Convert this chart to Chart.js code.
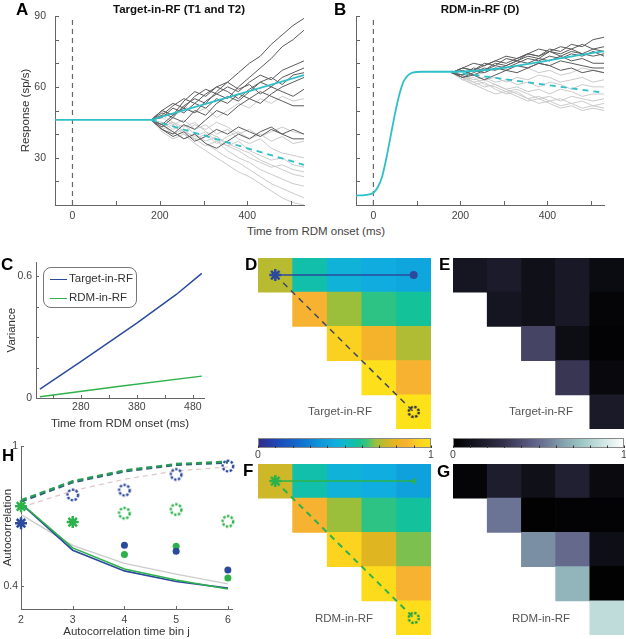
<!DOCTYPE html>
<html>
<head>
<meta charset="utf-8">
<script src="https://cdn.jsdelivr.net/npm/chart.js@4.4.1/dist/chart.umd.min.js"></script>
<style>
  body { margin: 0; background: #fff; }
  #fig { position: relative; width: 626px; height: 639px; overflow: hidden; font-family: 'Liberation Sans', Arial, sans-serif; }
  #fig canvas, .t { position: absolute; }
  .t { white-space: nowrap; line-height: 1; color: #333; }
  .c { transform: translate(-50%, -50%); }
  .L { font-weight: bold; font-size: 17px; color: #000; }
  .lab { font-size: 11.5px; color: #555; }
</style>
</head>
<body>
<div id="fig">
  <canvas id="cA" width="310" height="225" style="left:0;top:0"></canvas>
  <canvas id="cB" width="296" height="225" style="left:330px;top:0"></canvas>
  <canvas id="cC" width="220" height="183" style="left:0;top:252px"></canvas>
  <canvas id="cH" width="240" height="202" style="left:0;top:437px"></canvas>
  <canvas id="cD" width="173" height="171" style="left:258px;top:258px"></canvas>
  <canvas id="cE" width="171" height="171" style="left:453px;top:258px"></canvas>
  <canvas id="cF" width="173" height="171" style="left:258px;top:464px"></canvas>
  <canvas id="cG" width="171" height="171" style="left:453px;top:464px"></canvas>
  <canvas id="cbD" width="190" height="30" style="left:250px;top:434px"></canvas>
  <canvas id="cbE" width="183" height="30" style="left:445px;top:434px"></canvas>

  <div class="t L" style="left:16px;top:1px">A</div>
  <div class="t L" style="left:334px;top:1px">B</div>
  <div class="t L" style="left:1px;top:256px">C</div>
  <div class="t L" style="left:245px;top:256px">D</div>
  <div class="t L" style="left:439px;top:256px">E</div>
  <div class="t L" style="left:243px;top:462px">F</div>
  <div class="t L" style="left:437px;top:463px">G</div>
  <div class="t L" style="left:2px;top:447px">H</div>

  <div class="t c" style="left:179px;top:10px;font-weight:bold;font-size:11.5px;color:#111">Target-in-RF (T1 and T2)</div>
  <div class="t c" style="left:480px;top:10px;font-weight:bold;font-size:11.5px;color:#111">RDM-in-RF (D)</div>
  <div class="t c" style="left:316px;top:232px;font-size:11.5px;color:#444">Time from RDM onset (ms)</div>

  <div class="t c lab" style="left:340px;top:412px">Target-in-RF</div>
  <div class="t c lab" style="left:541px;top:412px">Target-in-RF</div>
  <div class="t c lab" style="left:344px;top:619px">RDM-in-RF</div>
  <div class="t c lab" style="left:541px;top:619px">RDM-in-RF</div>

  <div class="t" style="left:43px;top:267px;width:92px;height:39px;border:1px solid #777;border-radius:8px"></div>
  <div class="t" style="left:50px;top:279px;width:17px;border-top:1.5px solid #2b4a9c"></div>
  <div class="t" style="left:69px;top:273px;font-size:11.5px">Target-in-RF</div>
  <div class="t" style="left:50px;top:298px;width:17px;border-top:1.5px solid #2db24b"></div>
  <div class="t" style="left:69px;top:292px;font-size:11.5px">RDM-in-RF</div>
</div>

<script>
// ---- A / B : simulated firing rates ----
const tWalk = [180, 205, 230, 255, 280, 305, 330, 355, 380, 405, 430, 455, 480, 505, 530];

const aDark = [
  [46, 49, 47, 52, 55, 53, 58, 62, 66, 70, 73, 78, 82, 86, 89],
  [46, 44, 48, 51, 49, 54, 57, 55, 60, 64, 68, 72, 77, 80, 84],
  [46, 50, 53, 51, 56, 59, 57, 60, 58, 62, 65, 63, 67, 69, 71],
  [46, 43, 47, 45, 50, 48, 53, 56, 54, 58, 62, 60, 64, 66, 68],
  [46, 48, 52, 55, 53, 57, 60, 58, 55, 59, 62, 64, 61, 65, 66],
  [46, 42, 40, 44, 42, 46, 50, 48, 52, 55, 53, 57, 60, 62, 64],
  [46, 50, 48, 54, 58, 56, 60, 62, 59, 61, 57, 60, 58, 56, 59],
  [46, 47, 51, 49, 53, 51, 55, 53, 57, 55, 58, 56, 54, 52, 52],
  [46, 42, 39, 41, 37, 39, 42, 40, 43, 41, 39, 42, 40, 38, 38],
  [46, 44, 41, 38, 40, 36, 34, 37, 40, 38, 41, 43, 40, 42, 40]
];
const aLight = [
  [46, 50, 48, 52, 49, 51, 47, 50, 53, 51, 55, 53, 56, 54, 55],
  [46, 43, 45, 41, 44, 42, 45, 43, 40, 42, 39, 41, 43, 41, 40],
  [46, 44, 40, 42, 38, 40, 36, 39, 41, 38, 40, 37, 39, 36, 37],
  [46, 47, 44, 46, 42, 44, 40, 42, 38, 36, 38, 34, 32, 31, 30],
  [46, 43, 45, 41, 39, 41, 37, 35, 37, 33, 31, 29, 30, 27, 26],
  [46, 48, 45, 43, 45, 41, 39, 36, 34, 32, 29, 27, 25, 23, 22],
  [46, 42, 44, 40, 38, 35, 37, 33, 30, 28, 25, 23, 21, 19, 18],
  [46, 44, 41, 38, 40, 36, 33, 30, 28, 25, 22, 19, 17, 15, 13],
  [46, 41, 38, 40, 36, 33, 30, 27, 24, 22, 19, 16, 13, 11, 10],
  [46, 45, 42, 44, 40, 37, 39, 35, 33, 30, 28, 26, 27, 25, 24]
];
const aMeanT = [-40, 180, 530];
const aMeanUp = [46, 46, 65];
const aDashT = [180, 530];
const aMeanDown = [46, 27];

const bDark = [
  [66, 68, 67, 70, 69, 72, 71, 74, 73, 76, 75, 78, 77, 80, 81],
  [66, 65, 68, 67, 70, 69, 71, 73, 72, 75, 74, 76, 78, 76, 77],
  [66, 68, 70, 69, 71, 73, 72, 74, 76, 75, 77, 76, 74, 76, 75],
  [66, 64, 66, 68, 67, 69, 71, 70, 72, 71, 73, 75, 74, 73, 74],
  [66, 67, 65, 67, 69, 68, 70, 72, 71, 73, 72, 74, 73, 75, 73],
  [66, 68, 67, 69, 71, 70, 72, 74, 73, 75, 73, 71, 72, 70, 70],
  [66, 65, 67, 66, 68, 67, 69, 68, 70, 69, 71, 70, 69, 68, 68],
  [66, 64, 65, 63, 65, 67, 66, 68, 70, 69, 67, 68, 66, 67, 66]
];
const bLight = [
  [66, 67, 65, 66, 68, 67, 69, 68, 66, 67, 65, 66, 68, 67, 66],
  [66, 64, 65, 63, 64, 62, 64, 63, 65, 64, 62, 63, 64, 62, 63],
  [66, 65, 63, 64, 62, 63, 61, 62, 60, 62, 61, 59, 61, 60, 60],
  [66, 64, 62, 63, 61, 59, 60, 58, 59, 57, 59, 58, 56, 57, 57],
  [66, 63, 64, 61, 60, 58, 59, 57, 55, 56, 54, 56, 55, 54, 55],
  [66, 65, 62, 60, 61, 59, 57, 55, 56, 54, 55, 53, 54, 52, 53],
  [66, 63, 61, 62, 59, 57, 58, 55, 53, 54, 52, 53, 51, 52, 51],
  [66, 64, 61, 59, 57, 58, 56, 54, 55, 53, 51, 52, 50, 51, 50]
];
const bMeanT = [-40, -20, 0, 10, 20, 30, 40, 50, 60, 70, 80, 90, 110, 180, 530];
const bMeanUp = [14, 14.2, 15.2, 17.5, 22, 30, 39.5, 49, 57, 62.5, 65, 66, 66.4, 66.4, 75];
const bDashT = [180, 530];
const bMeanDown = [66.4, 57.5];

const rateRange = [10, 90];
const rateTicks = [10, 20, 30, 40, 50, 60, 70, 80, 90];
const rateLabeled = [30, 60, 90];
const timeRange = [-40, 530];
const timeTicks = [0, 100, 200, 300, 400, 500];
const timeLabeled = [0, 200, 400];
const onsetX = [0, 0];

// ---- C : variance ----
const cTimeT = [207, 280, 380, 450, 496];
const cVarT = [0.044, 0.18, 0.37, 0.51, 0.615];
const cTimeR = [207, 350, 496];
const cVarR = [0.006, 0.058, 0.108];
const cXTicks = [230, 280, 330, 380, 430, 480];
const cXLabeled = [280, 380, 480];
const cYTicks = [0, 0.15, 0.3, 0.45, 0.6];
const cYLabeled = [0, 0.6];

// ---- H : autocorrelation ----
const hBins = [2, 3, 4, 5, 6];
const hDashT = [0.762, 0.845, 0.892, 0.92, 0.93];
const hDashR = [0.768, 0.85, 0.896, 0.924, 0.934];
const hDashShuffle = [0.737, 0.809, 0.858, 0.894, 0.911];
const hSolidGray = [0.706, 0.574, 0.496, 0.45, 0.408];
const hSolidT = [0.753, 0.553, 0.464, 0.418, 0.39];
const hSolidR = [0.755, 0.563, 0.472, 0.425, 0.386];
const hStarT = [[2, 0.669]];
const hStarR = [[2, 0.742], [3, 0.674]];
const hRingT = [[3, 0.791], [4, 0.811], [5, 0.879], [6, 0.915]];
const hRingR = [[4, 0.712], [5, 0.728], [6, 0.677]];
const hDotT = [[4, 0.574], [5, 0.549], [6, 0.468]];
const hDotR = [[4, 0.535], [5, 0.570], [6, 0.433]];
const hYTicks = [0.4, 1];

// ---- D-G : correlation matrices ----
const cellIdx = [0, 1, 2, 3, 4];
const dVals = [
  [0.72, 0.55, 0.47, 0.44, 0.42],
  [null, 0.86, 0.685, 0.61, 0.575],
  [null, null, 0.93, 0.84, 0.71],
  [null, null, null, 0.99, 0.86],
  [null, null, null, null, 1.0]
];
const fVals = [
  [0.75, 0.55, 0.47, 0.45, 0.40],
  [null, 0.86, 0.685, 0.61, 0.57],
  [null, null, 0.94, 0.78, 0.665],
  [null, null, null, 0.97, 0.86],
  [null, null, null, null, 0.98]
];
const eVals = [
  [0.14, 0.17, 0.1, 0.15, 0.07],
  [null, 0.13, 0.1, 0.15, 0.03],
  [null, null, 0.37, 0.08, 0.02],
  [null, null, null, 0.32, 0.05],
  [null, null, null, null, 0.16]
];
const gVals = [
  [0.03, 0.18, 0.1, 0.2, 0.06],
  [null, 0.53, 0.01, 0.02, 0.02],
  [null, null, 0.6, 0.5, 0.09],
  [null, null, null, 0.7, 0.01],
  [null, null, null, null, 0.84]
];
const pathStart = [0, 0], pathRowEnd = [4, 0], pathDiagEnd = [4, 4];
const cbTicks = [0, 0.1, 0.2, 0.3, 0.4, 0.5, 0.6, 0.7, 0.8, 0.9, 1];
const cbLabeled = [0, 1];

const parulaStops = [
  [0, '#332a8a'], [0.12, '#1d4bb8'], [0.25, '#1071d0'], [0.35, '#0e93d8'],
  [0.45, '#10aee0'], [0.52, '#10bcc0'], [0.58, '#14c296'], [0.63, '#3cc47a'],
  [0.68, '#98c03c'], [0.74, '#c8b82a'], [0.8, '#eab41c'], [0.86, '#f8b232'],
  [0.92, '#fbcf22'], [1, '#fde21a']
];
const boneStops = [
  [0, '#000000'], [0.15, '#181826'], [0.3, '#33314c'], [0.45, '#5a5a82'],
  [0.55, '#6f7a98'], [0.65, '#86a4b0'], [0.75, '#9cc6c4'], [0.88, '#cfe6e4'], [1, '#ffffff']
];

const blue = '#2b4a9c', green = '#2db24b', cyan = '#2fbfc8';

Chart.defaults.font.family = "'Liberation Sans', Arial, Helvetica, sans-serif";
Chart.defaults.font.size = 10.5;
Chart.defaults.color = '#444';
Chart.defaults.animation = false;
Chart.defaults.responsive = false;
Chart.defaults.plugins.legend.display = false;
Chart.defaults.plugins.tooltip.enabled = false;

// inward tick marks, matlab style
const inTicks = {
  id: 'inTicks',
  defaults: { len: 0, color: '#555' },
  afterDraw(chart, args, opts) {
    if (!opts.len) return;
    const ctx = chart.ctx;
    ctx.save();
    ctx.strokeStyle = opts.color;
    ctx.lineWidth = 1;
    Object.values(chart.scales).forEach(s => {
      if (!s.options.display) return;
      s.ticks.forEach(t => {
        const p = Math.round(s.getPixelForValue(t.value)) + 0.5;
        ctx.beginPath();
        if (s.isHorizontal()) { ctx.moveTo(p, s.top); ctx.lineTo(p, s.top - opts.len); }
        else { ctx.moveTo(s.right, p); ctx.lineTo(s.right + opts.len, p); }
        ctx.stroke();
      });
    });
    ctx.restore();
  }
};
Chart.register(inTicks);

const cbarFill = {
  id: 'cbarFill',
  beforeDatasetsDraw(chart, args, opts) {
    const { ctx, chartArea: a } = chart;
    const g = ctx.createLinearGradient(a.left, 0, a.right, 0);
    opts.stops.forEach(([p, c]) => g.addColorStop(p, c));
    ctx.save();
    ctx.fillStyle = g;
    ctx.fillRect(a.left, a.top, a.width, a.height);
    ctx.strokeStyle = '#888';
    ctx.strokeRect(a.left + 0.5, a.top + 0.5, a.width - 1, a.height - 1);
    ctx.restore();
  }
};

const hex = h => [1, 3, 5].map(i => parseInt(h.slice(i, i + 2), 16));
function cmap(stops, v) {
  for (let i = 1; i < stops.length; i++) {
    if (v <= stops[i][0]) {
      const [p0, c0] = stops[i - 1], [p1, c1] = stops[i];
      const f = (v - p0) / (p1 - p0), a = hex(c0), b = hex(c1);
      return 'rgb(' + a.map((x, k) => Math.round(x + (b[k] - x) * f)).join(',') + ')';
    }
  }
  return stops[stops.length - 1][1];
}

// dotted open circle used as a point style
function ring(color, r) {
  const c = document.createElement('canvas');
  c.width = c.height = 2 * Math.ceil(r) + 6;
  const x = c.getContext('2d');
  x.strokeStyle = color; x.lineWidth = 2.4; x.setLineDash([2.4, 1.5]);
  x.beginPath(); x.arc(c.width / 2, c.height / 2, r, 0, Math.PI * 2); x.stroke();
  return c;
}

function linAxis(range, ticks, labeled, fit, horiz, pad, title) {
  return {
    type: 'linear', min: range[0], max: range[1], offset: false,
    grid: { display: false, drawTicks: false },
    border: { display: true, color: '#666', width: 1 },
    ticks: {
      autoSkip: false, maxRotation: 0, padding: pad, color: '#444',
      callback: v => labeled.includes(v) ? String(v) : ''
    },
    afterBuildTicks: s => { s.ticks = ticks.map(v => ({ value: v })); },
    afterFit: s => { if (horiz) s.height = fit; else s.width = fit; },
    title: title ? { display: true, text: title.text, color: '#333', font: { size: 11.5 }, padding: title.padding } : { display: false }
  };
}

function ln(xs, ys, color, width, dash) {
  return {
    data: xs.map((x, i) => ({ x, y: ys[i] })),
    borderColor: color, borderWidth: width, borderDash: dash || [],
    pointRadius: 0, fill: false, tension: 0
  };
}
const pts = arr => arr.map(([x, y]) => ({ x, y }));

// ---- A ----
new Chart(document.getElementById('cA'), {
  type: 'line',
  data: {
    datasets: [
      ln(aMeanT, aMeanUp, cyan, 1.8),
      ln(aDashT, aMeanDown, cyan, 1.8, [6, 5]),
      ln(onsetX, rateRange, '#666', 1.2, [5, 4]),
      ...aDark.map(y => ln(tWalk, y, '#5a5a5a', 1)),
      ...aLight.map(y => ln(tWalk, y, '#cacaca', 1))
    ]
  },
  options: {
    layout: { padding: { left: 0, top: 16, right: 6, bottom: 0 }, autoPadding: false },
    scales: {
      x: linAxis(timeRange, timeTicks, timeLabeled, 20, true, 5),
      y: linAxis(rateRange, rateTicks, rateLabeled, 55, false, 9, { text: 'Response (sp/s)', padding: { top: 18.5, bottom: 0 } })
    },
    plugins: { inTicks: { len: 4, color: '#666' } }
  }
});

// ---- B ----
const bRise = ln(bMeanT, bMeanUp, cyan, 1.8);
bRise.cubicInterpolationMode = 'monotone';
new Chart(document.getElementById('cB'), {
  type: 'line',
  data: {
    datasets: [
      bRise,
      ln(bDashT, bMeanDown, cyan, 1.8, [6, 5]),
      ln(onsetX, rateRange, '#666', 1.2, [5, 4]),
      ...bDark.map(y => ln(tWalk, y, '#5a5a5a', 1)),
      ...bLight.map(y => ln(tWalk, y, '#cacaca', 1))
    ]
  },
  options: {
    layout: { padding: { left: 0, top: 16, right: 22, bottom: 0 }, autoPadding: false },
    scales: {
      x: linAxis(timeRange, timeTicks, timeLabeled, 20, true, 5),
      y: linAxis(rateRange, rateTicks, [], 26, false, 9)
    },
    plugins: { inTicks: { len: 4, color: '#666' } }
  }
});

// ---- C ----
new Chart(document.getElementById('cC'), {
  type: 'line',
  data: {
    datasets: [
      ln(cTimeT, cVarT, blue, 1.5),
      ln(cTimeR, cVarR, green, 1.5)
    ]
  },
  options: {
    layout: { padding: { left: 0, top: 8, right: 16, bottom: 0 }, autoPadding: false },
    scales: {
      x: linAxis([200, 500], cXTicks, cXLabeled, 37, true, 3, { text: 'Time from RDM onset (ms)', padding: { top: 0, bottom: 3.8 } }),
      y: linAxis([0, 0.67], cYTicks, cYLabeled, 36, false, 4, { text: 'Variance', padding: { top: 5.3, bottom: 0 } })
    },
    plugins: { inTicks: { len: 3, color: '#666' } }
  }
});

// ---- H ----
const ringBlue = ring(blue, 5.3), ringGreen = ring(green, 5.3);
function mk(data, style, color, extra) {
  return Object.assign({ data: pts(data), showLine: false, pointStyle: style, borderColor: color, backgroundColor: color, clip: false, order: 0 }, extra);
}
new Chart(document.getElementById('cH'), {
  type: 'line',
  data: {
    datasets: [
      mk(hStarR, 'star', green, { pointRadius: 6, borderWidth: 2.5 }),
      mk(hStarT, 'star', blue, { pointRadius: 6, borderWidth: 2.5 }),
      mk(hRingT, ringBlue, blue, { pointRadius: 6 }),
      mk(hRingR, ringGreen, green, { pointRadius: 6 }),
      mk(hDotT, 'circle', blue, { pointRadius: 3.5, borderWidth: 0 }),
      mk(hDotR, 'circle', green, { pointRadius: 3.5, borderWidth: 0 }),
      Object.assign(ln(hBins, hDashR, '#2a9a58', 2.2, [6, 4]), { order: 1, clip: false }),
      Object.assign(ln(hBins, hDashT, '#2c5a7c', 2.2, [6, 4]), { order: 1, clip: false }),
      Object.assign(ln(hBins, hDashShuffle, '#e0c6c8', 1.2, [5, 4]), { order: 2, clip: false }),
      Object.assign(ln(hBins, hSolidR, green, 1.6), { order: 1, clip: false }),
      Object.assign(ln(hBins, hSolidT, blue, 1.6), { order: 1, clip: false }),
      Object.assign(ln(hBins, hSolidGray, '#cccccc', 1.4), { order: 2, clip: false })
    ]
  },
  options: {
    layout: { padding: { left: 0, top: 8, right: 8, bottom: 0 }, autoPadding: false },
    scales: {
      x: linAxis([2, 6.08], hBins, hBins, 30, true, 4.5, { text: 'Autocorrelation time bin j', padding: { top: 0, bottom: 0 } }),
      y: linAxis([0.3, 1], hYTicks, hYTicks, 21, false, 3, { text: 'Autocorrelation', padding: { top: 1.3, bottom: 0 } })
    },
    plugins: { inTicks: { len: 3, color: '#666' } }
  }
});

// ---- D-G heat maps ----
function heatChart(id, vals, stops, overlay) {
  const cells = [], colors = [];
  vals.forEach((row, r) => row.forEach((v, c) => {
    if (v === null) return;
    cells.push({ x: c, y: [r - 0.5, r + 0.5] });
    colors.push(cmap(stops, v));
  }));
  const datasets = (overlay || []).concat([{
    type: 'bar', data: cells, backgroundColor: colors, borderWidth: 0,
    barPercentage: 1, categoryPercentage: 1, order: 10
  }]);
  new Chart(document.getElementById(id), {
    type: 'bar',
    data: { datasets },
    options: {
      layout: { padding: 0, autoPadding: false },
      scales: {
        x: { type: 'linear', min: -0.5, max: 4.5, display: false, offset: false,
             afterBuildTicks: s => { s.ticks = cellIdx.map(v => ({ value: v })); } },
        y: { type: 'linear', min: -0.5, max: 4.5, reverse: true, display: false }
      }
    }
  });
}
const P = p => ({ x: p[0], y: p[1] });
function pathOverlay(color, diagColor, diagWidth, endStyle, ringImg) {
  return [
    { type: 'scatter', data: [P(pathStart)], pointStyle: 'star', pointRadius: 6, borderWidth: 2.5, borderColor: color, order: 0 },
    { type: 'scatter', data: [P(pathRowEnd)], pointStyle: endStyle, pointRadius: 4, borderWidth: 0, backgroundColor: color, rotation: endStyle === 'triangle' ? -90 : 0, order: 0 },
    { type: 'scatter', data: [P(pathDiagEnd)], pointStyle: ringImg, pointRadius: 6, order: 0 },
    { type: 'line', data: [P(pathStart), P(pathRowEnd)], borderColor: color, borderWidth: 1.5, pointRadius: 0, order: 1 },
    { type: 'line', data: [P(pathStart), P(pathDiagEnd)], borderColor: diagColor, borderWidth: diagWidth, borderDash: [6, 5], pointRadius: 0, order: 1 }
  ];
}
heatChart('cD', dVals, parulaStops, pathOverlay(blue, '#3a4763', 1.5, 'circle', ring('#2a2f3a', 5)));
heatChart('cE', eVals, boneStops);
heatChart('cF', fVals, parulaStops, pathOverlay(green, green, 2, 'triangle', ring('#22a040', 5)));
heatChart('cG', gVals, boneStops);

// ---- colour bars ----
function colorbar(id, stops, padRight) {
  new Chart(document.getElementById(id), {
    type: 'line',
    data: { datasets: [] },
    options: {
      layout: { padding: { left: 8, top: 4, right: padRight, bottom: 0 }, autoPadding: false },
      scales: {
        x: Object.assign(linAxis([0, 1], cbTicks, cbLabeled, 16, true, 1), { border: { display: false } }),
        y: { type: 'linear', min: 0, max: 1, display: false }
      },
      plugins: { inTicks: { len: 2.5, color: '#333' }, cbarFill: { stops } }
    },
    plugins: [cbarFill]
  });
}
colorbar('cbD', parulaStops, 9);
colorbar('cbE', boneStops, 4);
</script>
</body>
</html>
